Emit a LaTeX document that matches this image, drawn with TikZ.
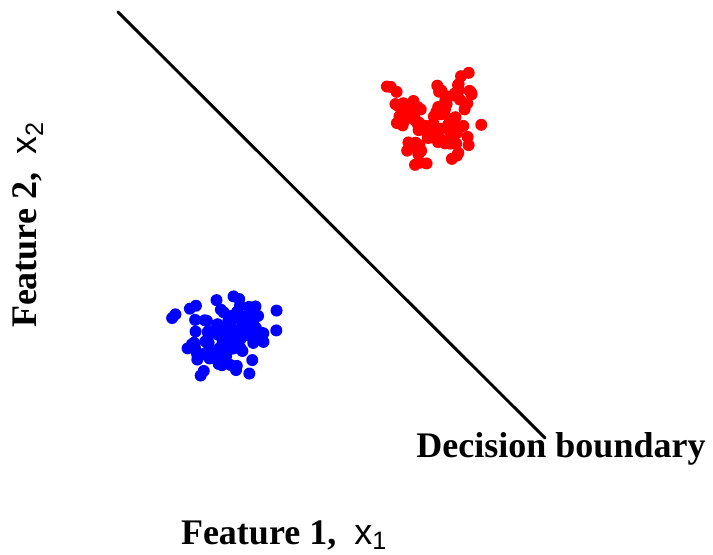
\documentclass[tikz,border=0pt]{standalone}
\usepackage{fontspec}
\setmainfont{Liberation Serif}
\newfontfamily\xsans{Liberation Sans}
\usetikzlibrary{positioning}
\tikzset{
  axlabel/.style={font=\bfseries\fontsize{27}{30}\selectfont, inner sep=0pt},
  boundary/.style={line width=2.2pt, draw=black, line cap=round},
  dot/.style={radius=6}
}
\newcommand{\featvar}[1]{{\xsans\mdseries x\textsubscript{#1}}}

\begin{document}
\begin{tikzpicture}[x=0.75pt, y=-0.75pt]
\path[use as bounding box] (0,0) rectangle (713,554);

% clusters
\pgfmathsetseed{4217}
\foreach \i in {1,...,100}{
  \pgfmathsetmacro\dx{22*(rand+rand+rand)}
  \pgfmathsetmacro\dy{22*(rand+rand+rand)}
  \fill[red] (437+\dx,120+\dy) circle[dot];
}
\foreach \i in {1,...,100}{
  \pgfmathsetmacro\dx{20*(rand+rand+rand)}
  \pgfmathsetmacro\dy{20*(rand+rand+rand)}
  \fill[blue] (225+\dx,334+\dy) circle[dot];
}

% boundary
\coordinate (btop) at (118,12);
\coordinate (bend) at (545,438);
\draw[boundary] (btop) -- (bend);

\node[axlabel, anchor=base] (dec) at (561,457) {Decision boundary};
\node[axlabel, anchor=base] (f1) at (284,544) {Feature 1, \ \featvar{1}};
\node[axlabel, rotate=90] (f2) at (28,225) {Feature 2, \ \featvar{2}};
\end{tikzpicture}
\end{document}
